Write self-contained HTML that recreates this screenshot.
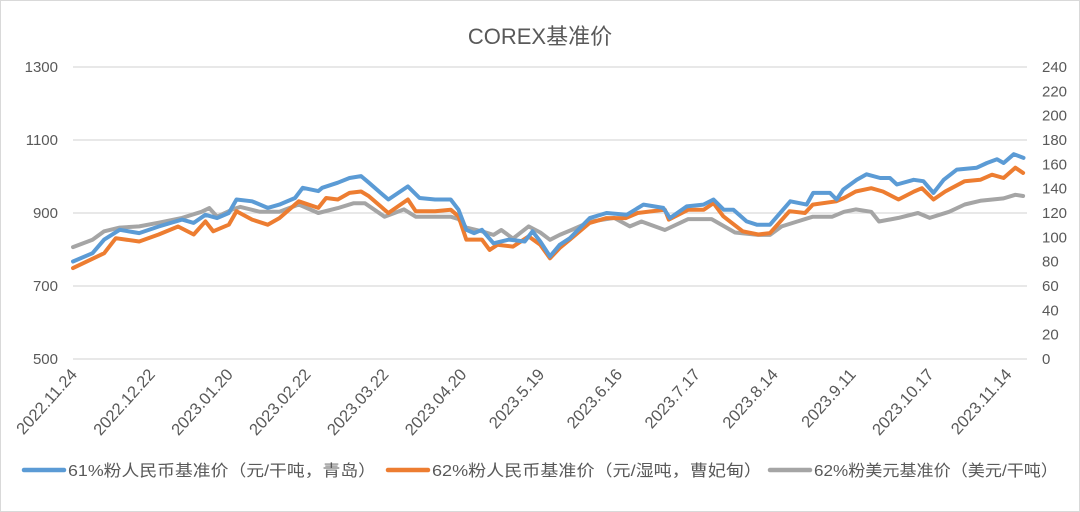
<!DOCTYPE html>
<html><head><meta charset="utf-8">
<style>
html,body{margin:0;padding:0;background:#fff;}
svg{display:block;font-family:"Liberation Sans","Noto Sans CJK SC",sans-serif;}
</style></head>
<body>
<svg id="chart" width="1080" height="512" viewBox="0 0 1080 512" xmlns="http://www.w3.org/2000/svg">
<rect x="0.5" y="0.5" width="1079" height="511" fill="#fff" stroke="#d9d9d9"/>
<text x="540" y="44" text-anchor="middle" font-size="22" fill="#595959" font-family="Liberation Sans, Noto Sans CJK SC, sans-serif">COREX基准价</text>
<g id="grid"></g>
<g id="yleft"></g>
<g id="yright"></g>
<g id="xaxis"></g>
<g id="series"></g>
<g font-size="16" fill="#595959">
  <g>
    <line x1="24" y1="470" x2="64" y2="470" stroke="#5b9bd5" stroke-width="4.5" stroke-linecap="round"/>
    <text x="68" y="476" fill="#595959" textLength="308" lengthAdjust="spacingAndGlyphs">61%粉人民币基准价（元/干吨，青岛）</text>
  </g>
  <g>
    <line x1="388" y1="470" x2="428" y2="470" stroke="#ed7d31" stroke-width="4.5" stroke-linecap="round"/>
    <text x="432" y="476" fill="#595959" textLength="330" lengthAdjust="spacingAndGlyphs">62%粉人民币基准价（元/湿吨，曹妃甸）</text>
  </g>
  <g>
    <line x1="770" y1="470" x2="810" y2="470" stroke="#a5a5a5" stroke-width="4.5" stroke-linecap="round"/>
    <text x="814" y="476" fill="#595959" textLength="244" lengthAdjust="spacingAndGlyphs">62%粉美元基准价（美元/干吨）</text>
  </g>
</g>
</svg>
<script>
const xLabels = ["2022.11.24","2022.12.22","2023.01.20","2023.02.22","2023.03.22","2023.04.20","2023.5.19","2023.6.16","2023.7.17","2023.8.14","2023.9.11","2023.10.17","2023.11.14"];
const leftTicks = [500,700,900,1100,1300];
const rightTicks = [0,20,40,60,80,100,120,140,160,180,200,220,240];
const blueDays = [0,5,8,12,17,22,28,31,34,37,40,42,46,50,53,57,59,63,64,68,71,74,76,79,81,86,89,93,97,99,101,103,105,108,112,116,118,120,122.5,125,127.6,132.7,137,142.2,146.5,151.6,153.3,157.6,161.9,164.5,167.1,169.6,173,175.6,179,184.2,188.4,190.1,194.4,196.1,197.8,201.3,203.8,207.3,209.8,211.6,215.9,218.4,221,223.6,227,232.1,234.7,237.3,239,241.6,244.1];
const blueVals = [767,790,827,854,845,863,882,873,895,886,900,937,932,914,923,941,969,960,969,983,996,1001,983,955,937,973,941,937,937,909,854,845,854,817,827,822,850,822,781,813,831,886,900,895,923,914,886,918,923,937,909,909,877,868,868,932,923,955,955,937,964,991,1006,996,996,978,991,987,955,991,1019,1024,1037,1047,1037,1061,1051];
const orangeDays = [0,8,11,17,22,27,31,34,36,40,42,46,50,53,58,63,65,68,71,74,76,80,81,86,88,93,97,99,101,105,107,109,113,117,120,122.5,125,127.6,132.7,137,142,145,152,153,158,162,164.5,167,172,176,179,184,188,190,196,198,201,205,208,212,216,218,221,224,229,233,236,239,242,244];
const orangeVals = [749,790,831,822,841,863,841,877,850,868,905,882,868,886,932,914,941,937,955,959,946,909,900,937,905,905,909,891,827,827,799,813,808,836,813,776,804,827,873,886,886,900,909,882,909,909,927,891,850,841,845,905,900,923,932,941,959,968,959,937,959,968,937,959,987,991,1005,996,1024,1010];
const grayDays = [0,5,8,12,17,22,28,33,35,37,41,43,48,53,58,63,68,72,75,80,85,88,97,99,101,105,108,110,113,117,120,122.5,125,128,133,139,143,146,152,158,164,170,176,179,182,186,190,195,198,201,205,207,212,217,220,225,229,233,239,242,244];
const grayVals = [92,98,105,108,109,112,116,121,124,117,123,125,121,121,127,120,124,128,128,117,123,117,117,115,108,105,102,106,99,109,104,98,102,106,113,116,109,113,106,115,115,104,102,102,109,113,117,117,121,123,121,113,116,120,116,121,127,130,132,135,134];

const NS="http://www.w3.org/2000/svg";
const X0=73, X1=1027, DAYMAX=245, YT=67, YB=359;
const xs = d => X0 + d*(X1-X0)/DAYMAX;
const yL = v => YB - (v-500)/(1300-500)*(YB-YT);
const yR = v => YB - v/240*(YB-YT);
function mk(tag, attrs, parent){const e=document.createElementNS(NS,tag);for(const k in attrs)e.setAttribute(k,attrs[k]);parent.appendChild(e);return e;}
const grid=document.getElementById('grid'), yl=document.getElementById('yleft'), yr=document.getElementById('yright'), xa=document.getElementById('xaxis'), ser=document.getElementById('series');
leftTicks.forEach(v=>{
  const l=mk('line',{x1:X0,x2:X1,y1:yL(v),y2:yL(v),stroke:'#d9d9d9','stroke-width':1.3},grid);
  
  
  const t=mk('text',{x:58,y:yL(v)+5,'text-anchor':'end','font-size':15,fill:'#595959'},yl);
  t.textContent=v;
  
  
});
rightTicks.forEach(v=>{
  const t=mk('text',{x:1042,y:yR(v)+5,'text-anchor':'start','font-size':15,fill:'#595959'},yr);
  t.textContent=v;
  
  
});
xLabels.forEach((s,i)=>{
  const x=xs(i*20)+5, y=375;
  const t=mk('text',{x:x,y:y,'text-anchor':'end','font-size':16.5,fill:'#595959',transform:`rotate(-48 ${x} ${y})`},xa);
  t.textContent=s;
  
  
});
function line(days, vals, yf, color, name){
  const d=days.map((dd,i)=>(i?'L':'M')+xs(dd).toFixed(1)+','+yf(vals[i]).toFixed(1)).join(' ');
  const p=mk('path',{d:d,fill:'none',stroke:color,'stroke-width':4,'stroke-linejoin':'round','stroke-linecap':'round'},ser);
  
  
}
line(grayDays, grayVals, yR, '#a5a5a5', 'line-62-usd');
line(orangeDays, orangeVals, yL, '#ed7d31', 'line-62-rmb');
line(blueDays, blueVals, yL, '#5b9bd5', 'line-61-rmb');
</script>
</body></html>
